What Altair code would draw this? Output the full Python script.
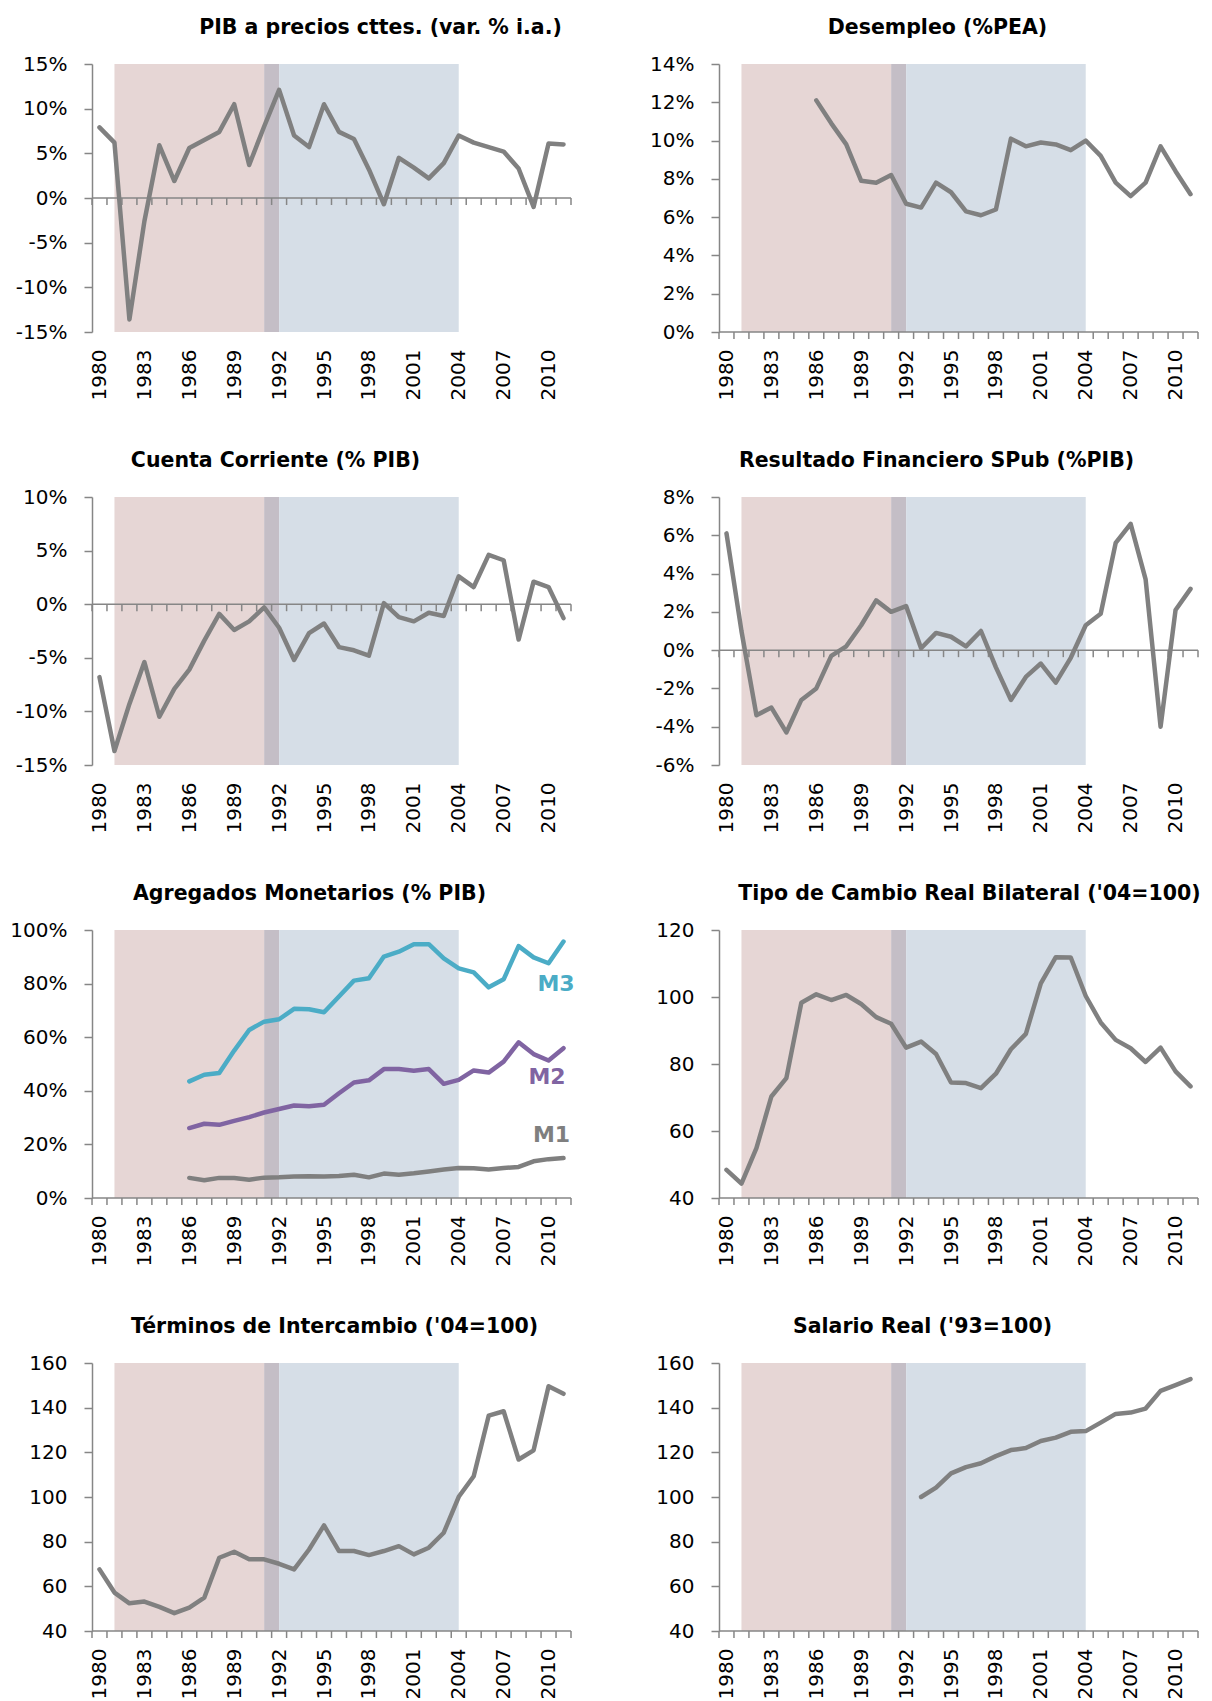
import altair as alt
import pandas as pd

FONT = "DejaVu Sans"
YEARS = list(range(1980, 2012))
LABEL_YEARS = list(range(1980, 2011, 3))

# Shaded periods
BAND_START = [1981, 1991, 1992]
BAND_END = [1991, 1992, 2004]
BAND_COLOR = ["#E6D6D5", "#C4BEC6", "#D6DEE7"]

# Series
pib = [7.9, 6.2, -13.6, -2.6, 5.9, 1.9, 5.6, 6.5, 7.4, 10.5, 3.7, 8.0, 12.1, 7.0, 5.7, 10.5,
       7.4, 6.6, 3.2, -0.7, 4.5, 3.4, 2.2, 3.9, 7.0, 6.2, 5.7, 5.2, 3.3, -1.0, 6.1, 6.0]
desempleo_start = 1986
desempleo = [12.1, 10.9, 9.8, 7.9, 7.8, 8.2, 6.7, 6.5, 7.8, 7.3, 6.3, 6.1, 6.4, 10.1, 9.7, 9.9,
             9.8, 9.5, 10.0, 9.2, 7.8, 7.1, 7.8, 9.7, 8.4, 7.2]
cuenta_corriente = [-6.8, -13.7, -9.3, -5.4, -10.5, -7.9, -6.1, -3.4, -0.9, -2.4, -1.6, -0.3,
                    -2.2, -5.2, -2.7, -1.8, -4.0, -4.3, -4.8, 0.1, -1.2, -1.6, -0.8, -1.1, 2.6,
                    1.6, 4.6, 4.1, -3.3, 2.1, 1.6, -1.3]
resultado_fin = [6.1, 1.0, -3.4, -3.0, -4.3, -2.6, -2.0, -0.3, 0.2, 1.3, 2.6, 2.0, 2.3, 0.1, 0.9,
                 0.7, 0.2, 1.0, -0.9, -2.6, -1.4, -0.7, -1.7, -0.4, 1.3, 1.9, 5.6, 6.6, 3.7, -4.0,
                 2.1, 3.2]
agregados_start = 1986
m3 = [43.5, 46.0, 46.6, 55.0, 62.7, 65.8, 66.7, 70.6, 70.4, 69.3, 75.2, 81.1, 82.0, 90.1, 91.9,
      94.7, 94.7, 89.4, 85.7, 84.2, 78.6, 81.6, 94.0, 89.8, 87.6, 95.7]
m2 = [26.1, 27.7, 27.3, 28.8, 30.2, 31.9, 33.2, 34.5, 34.2, 34.8, 39.1, 43.1, 43.9, 48.1, 48.1,
      47.5, 48.1, 42.6, 44.1, 47.6, 46.8, 50.9, 58.1, 53.7, 51.3, 55.9]
m1 = [7.5, 6.6, 7.5, 7.5, 6.8, 7.6, 7.7, 8.0, 8.1, 8.0, 8.2, 8.7, 7.7, 9.1, 8.7, 9.2, 9.9, 10.6,
      11.2, 11.1, 10.6, 11.2, 11.6, 13.7, 14.5, 14.9]
m_names = ["M3", "M2", "M1"]
m_colors = ["#4BACC6", "#8064A2", "#7F7F7F"]
m_label_year = [2010.5, 2009.9, 2010.2]
m_label_value = [80.0, 45.0, 23.5]
tcr = [48.4, 44.3, 54.9, 70.3, 75.8, 98.3, 100.8, 99.1, 100.6, 97.9, 94.0, 92.0, 84.9, 86.7, 83.0,
       74.5, 74.3, 72.8, 77.1, 84.4, 89.0, 104.1, 111.9, 111.8, 100.3, 92.4, 87.2, 84.7, 80.6,
       84.9, 77.8, 73.3]
tint = [67.6, 57.2, 52.4, 53.2, 50.8, 48.0, 50.5, 54.9, 72.8, 75.5, 72.1, 72.1, 70.1, 67.6, 76.5,
        87.3, 75.8, 75.8, 74.0, 75.8, 78.0, 74.3, 77.3, 84.0, 100.1, 109.3, 136.4, 138.4, 116.8,
        120.9, 149.6, 146.2]
salario_start = 1993
salario = [100.0, 104.2, 110.6, 113.4, 115.1, 118.3, 121.0, 121.9, 125.1, 126.6, 129.2, 129.5,
           133.3, 137.2, 137.8, 139.6, 147.5, 150.1, 152.8]

LINE_GRAY = "#808080"
AXIS_GRAY = "#868686"
H = 268
W = 479


def series_df(name, start, values, color):
    return pd.DataFrame({"year": list(range(start, start + len(values))),
                         "value": values, "series": name, "color": color})


def panel(title, series, ymin, ymax, step, pct, title_dx, labels=None):
    xscale = alt.Scale(domain=[YEARS[0] - 0.5, YEARS[-1] + 0.5], nice=False, zero=False)
    yscale = alt.Scale(domain=[ymin, ymax], nice=False, zero=False)
    xaxis = alt.Axis(values=LABEL_YEARS, format="d", labelAngle=270, domain=False, ticks=False,
                     grid=False, labelPadding=17, labelFlush=False, labelOverlap=False,
                     title=None, labelFont=FONT, labelFontSize=20, labelColor="#000000")
    yaxis = alt.Axis(values=list(range(ymin, ymax + 1, step)),
                     labelExpr=("datum.value + '%'" if pct else "datum.label"),
                     domainColor=AXIS_GRAY, domainWidth=1.5, tickColor=AXIS_GRAY, tickSize=8,
                     tickWidth=1.5, labelPadding=17, labelFont=FONT, labelFontSize=20,
                     labelColor="#000000", grid=False, title=None, labelOverlap=False)
    X = lambda f: alt.X(f, scale=xscale, axis=xaxis)
    Y = lambda f: alt.Y(f, scale=yscale, axis=yaxis)

    band_df = pd.DataFrame({"start": BAND_START, "end": BAND_END, "color": BAND_COLOR,
                            "lo": ymin, "hi": ymax})
    shade = alt.Chart(band_df).mark_rect().encode(
        x=X("start:Q"), x2="end:Q", y=Y("lo:Q"), y2="hi:Q",
        color=alt.Color("color:N", scale=None))

    base = 0 if ymin < 0 else ymin
    base_df = pd.DataFrame({"x0": [YEARS[0] - 0.5], "x1": [YEARS[-1] + 0.5], "b": [base]})
    baseline = alt.Chart(base_df).mark_rule(color=AXIS_GRAY, strokeWidth=1.5).encode(
        x=X("x0:Q"), x2="x1:Q", y=Y("b:Q"))
    tick_df = pd.DataFrame({"t": [y - 0.5 for y in YEARS] + [YEARS[-1] + 0.5], "b": base})
    ticks = alt.Chart(tick_df).mark_rule(color=AXIS_GRAY, strokeWidth=1.5, y2Offset=7).encode(
        x=X("t:Q"), y=Y("b:Q"), y2="b:Q")

    df = pd.concat([series_df(*s) for s in series], ignore_index=True)
    lines = alt.Chart(df).mark_line(strokeWidth=4.5, strokeJoin="round", strokeCap="round").encode(
        x=X("year:Q"), y=Y("value:Q"),
        color=alt.Color("color:N", scale=None),
        detail="series:N")

    layers = [shade, baseline, ticks, lines]
    if labels is not None:
        ldf = pd.DataFrame({"name": labels[0], "year": labels[1], "value": labels[2],
                            "color": labels[3]})
        txt = alt.Chart(ldf).mark_text(font=FONT, fontSize=22, fontWeight="bold").encode(
            x=X("year:Q"), y=Y("value:Q"), text="name:N",
            color=alt.Color("color:N", scale=None))
        layers.append(txt)

    return alt.layer(*layers).properties(
        width=W, height=H,
        title=alt.TitleParams(text=title, font=FONT, fontSize=20.5, fontWeight="bold",
                              anchor="middle", dx=title_dx, offset=0, baseline="alphabetic",
                              color="#000000", frame="group"))


p1 = panel("PIB a precios cttes. (var. % i.a.)", [("pib", 1980, pib, LINE_GRAY)],
           -15, 15, 5, True, 49)
p2 = panel("Desempleo (%PEA)", [("des", desempleo_start, desempleo, LINE_GRAY)],
           0, 14, 2, True, -21)
p3 = panel("Cuenta Corriente (% PIB)", [("cc", 1980, cuenta_corriente, LINE_GRAY)],
           -15, 10, 5, True, -56)
p4 = panel("Resultado Financiero SPub (%PIB)", [("rf", 1980, resultado_fin, LINE_GRAY)],
           -6, 8, 2, True, -22)
p5 = panel("Agregados Monetarios (% PIB)",
           [("M3", agregados_start, m3, m_colors[0]),
            ("M2", agregados_start, m2, m_colors[1]),
            ("M1", agregados_start, m1, m_colors[2])],
           0, 100, 20, True, -22, labels=(m_names, m_label_year, m_label_value, m_colors))
p6 = panel("Tipo de Cambio Real Bilateral ('04=100)", [("tcr", 1980, tcr, LINE_GRAY)],
           40, 120, 20, False, 11)
p7 = panel("Términos de Intercambio ('04=100)", [("ti", 1980, tint, LINE_GRAY)],
           40, 160, 20, False, 3)
p8 = panel("Salario Real ('93=100)", [("sal", salario_start, salario, LINE_GRAY)],
           40, 160, 20, False, -36)

chart = alt.concat(p1, p2, p3, p4, p5, p6, p7, p8, columns=2,
                   spacing={"row": 50, "column": 74}).properties(
    padding={"left": 1, "top": 9, "right": 0, "bottom": 5}
).configure_view(stroke=None)

chart.save("out.html", embed_options={"renderer": "svg", "actions": False})
